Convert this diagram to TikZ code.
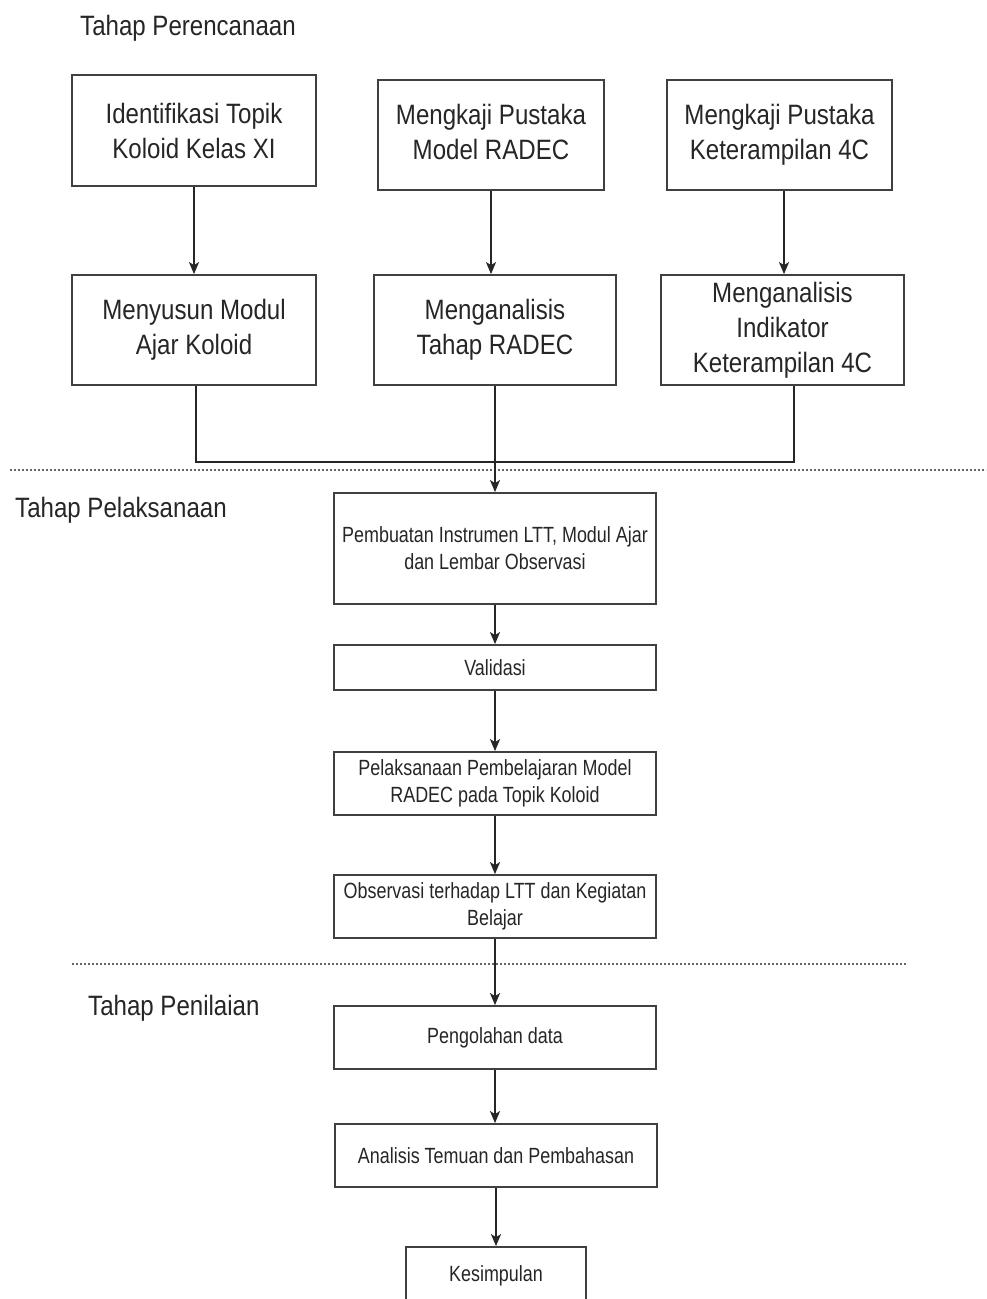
\documentclass[tikz,border=0pt]{standalone}
\usepackage{fontspec}
\setmainfont[FakeStretch=0.86]{Liberation Sans}
\newfontfamily\smallf[FakeStretch=0.815]{Liberation Sans}
\usetikzlibrary{arrows.meta}
\newcommand{\upfive}[1]{\raisebox{5pt}{\begin{tabular}{@{}c@{}}#1\end{tabular}}}
\begin{document}
\begin{tikzpicture}[x=1pt,y=-1pt,
 bigbox/.style={draw=black!75, line width=1.8pt, inner sep=0pt, align=center, font=\fontsize{28}{35}\selectfont, text=black!85},
 smallbox/.style={draw=black!75, line width=1.8pt, inner sep=0pt, align=center, font=\smallf\fontsize{22}{27}\selectfont, text=black!85},
 arr/.style={line width=1.8pt, draw=black!85, -{Stealth[length=12pt,width=10pt,inset=3pt]}},
 link/.style={line width=1.8pt, draw=black!85},
 sep/.style={draw=black!60, line width=1.5pt, dash pattern=on 2pt off 2pt},
 stage/.style={anchor=west, inner sep=0pt, font=\fontsize{28}{35}\selectfont, text=black!85}]
\useasboundingbox (0,0) rectangle (986,1299);
\fill[white] (0,0) rectangle (986,1299);
\clip (0,0) rectangle (986,1299);

% stage labels
\node[stage] (s1) at (80,28) {Tahap Perencanaan};
\node[stage] (s2) at (15,510) {Tahap Pelaksanaan};
\node[stage] (s3) at (88,1008) {Tahap Penilaian};

% separators
\draw[sep] (10,470) -- (986,470);
\draw[sep] (72,964) -- (906,964);

% planning boxes
\node[bigbox, minimum width=244pt, minimum height=111pt] (B1) at (194,130.5) {Identifikasi Topik\\Koloid Kelas XI};
\node[bigbox, minimum width=226pt, minimum height=110pt] (B2) at (491,135) {\upfive{Mengkaji Pustaka\\Model RADEC}};
\node[bigbox, minimum width=225pt, minimum height=110pt] (B3) at (779.5,135) {\upfive{Mengkaji Pustaka\\Keterampilan 4C}};
\node[bigbox, minimum width=244pt, minimum height=110pt] (C1) at (194,330) {Menyusun Modul\\Ajar Koloid};
\node[bigbox, minimum width=242pt, minimum height=110pt] (C2) at (495,330) {Menganalisis\\Tahap RADEC};
\node[bigbox, minimum width=243pt, minimum height=110pt] (C3) at (782.5,330) {Menganalisis\\Indikator\\Keterampilan 4C};

% implementation boxes
\node[smallbox, minimum width=322pt, minimum height=111pt] (D1) at (495,548.5) {Pembuatan Instrumen LTT, Modul Ajar\\dan Lembar Observasi};
\node[smallbox, minimum width=322pt, minimum height=45pt] (D2) at (495,667.5) {Validasi};
\node[smallbox, minimum width=322pt, minimum height=63pt] (D3) at (495,783.5) {Pelaksanaan Pembelajaran Model\\RADEC pada Topik Koloid};
\node[smallbox, minimum width=322pt, minimum height=63pt] (D4) at (495,906.5) {Observasi terhadap LTT dan Kegiatan\\Belajar};

% assessment boxes
\node[smallbox, minimum width=322pt, minimum height=63pt] (E1) at (495,1037.5) {Pengolahan data};
\node[smallbox, minimum width=322pt, minimum height=63pt] (E2) at (496,1155.5) {Analisis Temuan dan Pembahasan};
\node[smallbox, minimum width=180pt, minimum height=58pt] (E3) at (496,1276) {Kesimpulan};

% connectors
\draw[arr] (B1) -- (C1);
\draw[arr] (B2.south) -- (B2.south |- C2.north);
\draw[arr] ([xshift=4.5pt]B3.south) -- ([xshift=4.5pt]B3.south |- C3.north);
\coordinate (jl) at (196,462);
\coordinate (jr) at (794,462);
\draw[link] (C1.south -| jl) -- (jl) -- (jr) -- (C3.south -| jr);
\draw[arr] (C2) -- (D1);
\draw[arr] (D1.south) -- (D1.south |- D2.north);
\draw[arr] (D2.south) -- (D2.south |- D3.north);
\draw[arr] (D3.south) -- (D3.south |- D4.north);
\draw[arr] (D4.south) -- (D4.south |- E1.north);
\draw[arr] (E1.south) -- (E1.south |- E2.north);
\draw[arr] (E2.south) -- (E2.south |- E3.north);
\end{tikzpicture}
\end{document}
